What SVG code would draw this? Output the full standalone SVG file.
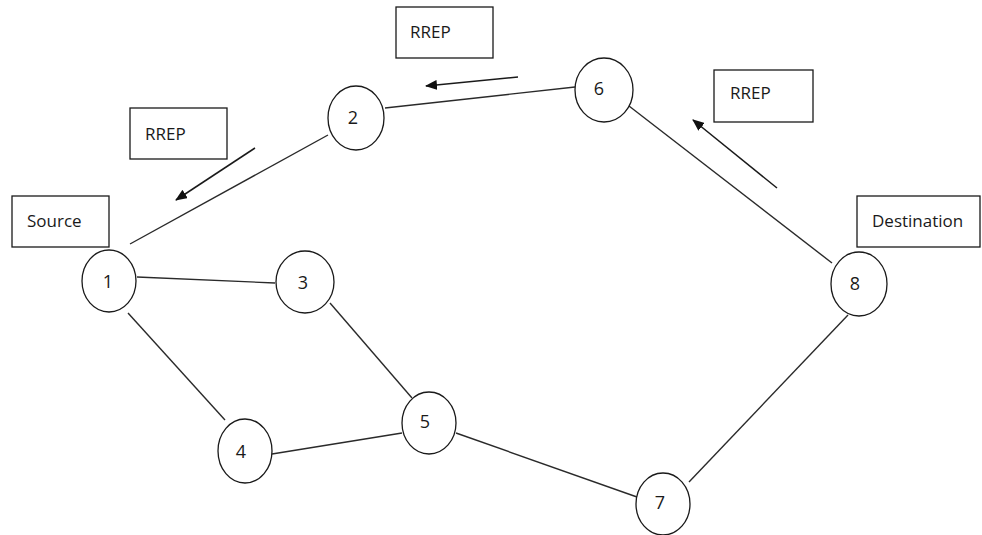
<svg xmlns="http://www.w3.org/2000/svg" width="982" height="535" viewBox="0 0 982 535">
<style>
.bg{fill:#ffffff}
.node{fill:#ffffff;stroke:#1a1a1a;stroke-width:1.3}
.box{fill:#ffffff;stroke:#1a1a1a;stroke-width:1.3}
.edge{stroke:#2a2a2a;stroke-width:1.4;fill:none}
.arrow{stroke:#1a1a1a;stroke-width:1.5;fill:none;marker-end:url(#ah)}
.lbl{font-family:"Open Sans","Liberation Sans",sans-serif;font-size:17px;fill:#1a1a1a}
.num{font-family:"Open Sans","Liberation Sans",sans-serif;font-size:18px;fill:#1a1a1a;text-anchor:middle}
</style>
<defs>
<marker id="ah" markerWidth="12" markerHeight="10" refX="11" refY="5" orient="auto" markerUnits="userSpaceOnUse">
<path d="M0,0 L12,5 L0,10 z" fill="#111"/>
</marker>
</defs>
<rect class="bg" x="0" y="0" width="982" height="535"/>
<g id="connectors">
<line class="edge" x1="130" y1="244" x2="328" y2="135"/>
<line class="edge" x1="385" y1="108" x2="575" y2="87"/>
<line class="edge" x1="629" y1="106" x2="832" y2="263"/>
<line class="edge" x1="137" y1="277" x2="275" y2="283"/>
<line class="edge" x1="128" y1="313" x2="225" y2="420"/>
<line class="edge" x1="330" y1="303" x2="412" y2="398"/>
<line class="edge" x1="272" y1="454" x2="402" y2="433"/>
<line class="edge" x1="456" y1="433" x2="637" y2="497"/>
<line class="edge" x1="689" y1="482" x2="848" y2="315"/>
<line class="arrow" x1="255" y1="148" x2="176" y2="200"/>
<line class="arrow" x1="518" y1="77" x2="426" y2="86"/>
<line class="arrow" x1="777" y1="188" x2="693" y2="120"/>
</g>
<g id="label-source"><rect class="box" x="12" y="196" width="97" height="51"/><text class="lbl" x="27" y="227">Source</text></g>
<g id="label-destination"><rect class="box" x="857" y="196" width="123" height="51"/><text class="lbl" x="872" y="227">Destination</text></g>
<g id="label-rrep-1"><rect class="box" x="130" y="108" width="97" height="51"/><text class="lbl" x="145" y="140">RREP</text></g>
<g id="label-rrep-2"><rect class="box" x="396" y="7" width="97" height="51"/><text class="lbl" x="410" y="38">RREP</text></g>
<g id="label-rrep-3"><rect class="box" x="714" y="70" width="99" height="52"/><text class="lbl" x="730" y="99">RREP</text></g>
<g id="node-1"><ellipse class="node" cx="109" cy="281" rx="27" ry="31"/><text class="num" x="108" y="288">1</text></g>
<g id="node-2"><ellipse class="node" cx="356" cy="118" rx="28" ry="32"/><text class="num" x="353" y="124">2</text></g>
<g id="node-3"><ellipse class="node" cx="305" cy="282" rx="29" ry="31"/><text class="num" x="303" y="289">3</text></g>
<g id="node-4"><ellipse class="node" cx="245" cy="451" rx="27" ry="32"/><text class="num" x="241" y="458">4</text></g>
<g id="node-5"><ellipse class="node" cx="429" cy="423" rx="27" ry="31"/><text class="num" x="425" y="428">5</text></g>
<g id="node-6"><ellipse class="node" cx="604" cy="90" rx="29" ry="32"/><text class="num" x="599" y="95">6</text></g>
<g id="node-7"><ellipse class="node" cx="663" cy="504" rx="27" ry="31"/><text class="num" x="660" y="509">7</text></g>
<g id="node-8"><ellipse class="node" cx="859" cy="284" rx="28" ry="32"/><text class="num" x="855" y="290">8</text></g>
</svg>
